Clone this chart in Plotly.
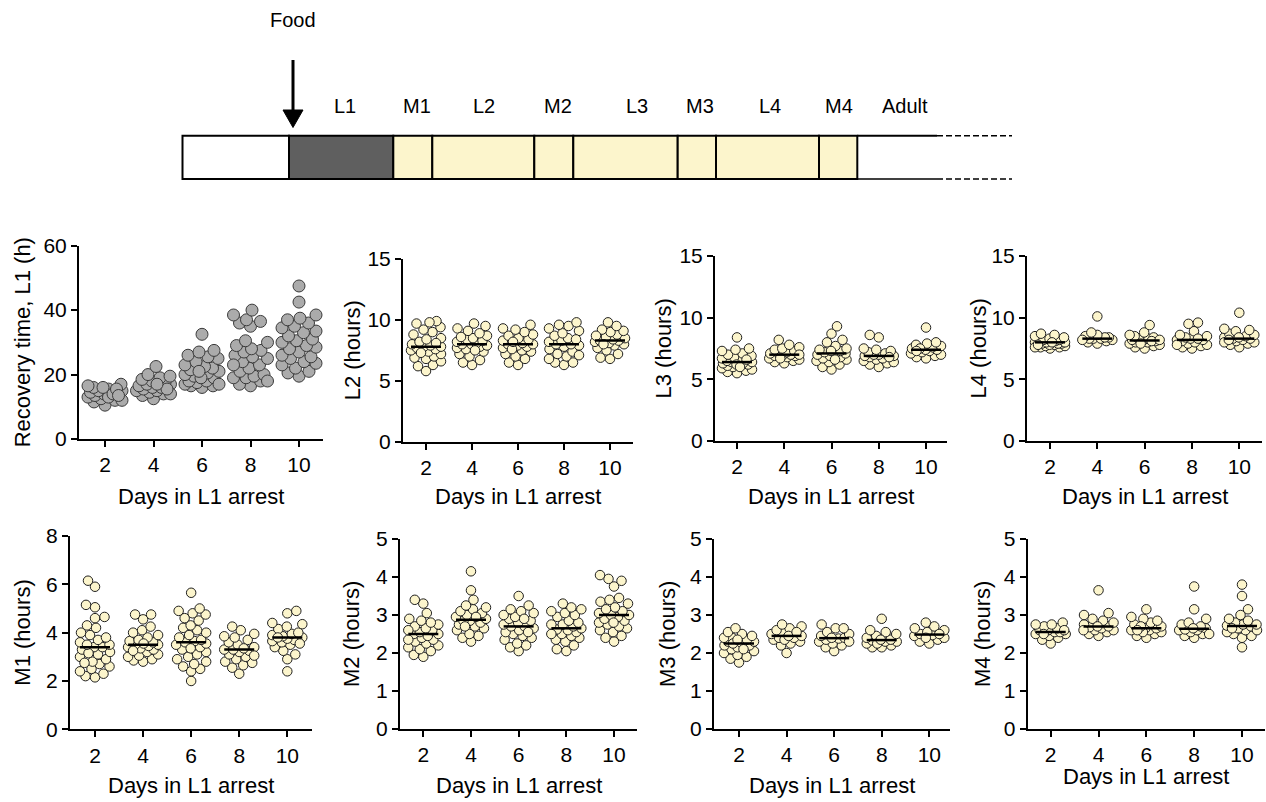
import numpy as np
import plotly.graph_objects as go

W, H = 1266, 802
FONT = "Liberation Sans, Arial, sans-serif"

# ---------------- data ----------------
days = [2, 4, 6, 8, 10]
day_labels = ["2", "4", "6", "8", "10"]

L1_values = [
    [10.5, 11.5, 12, 12.5, 13, 13.5, 14, 14.5, 15, 15, 15.5, 16, 16.5, 17, 12, 13, 14, 15.5, 16, 13.5],
    [12.5, 13.5, 14, 14.5, 15, 15, 15.5, 16, 16, 16.5, 17, 17, 17.5, 18, 18.5, 19, 19.5, 20, 22.5, 14, 15.5, 17],
    [16, 16.5, 16.5, 17, 17.5, 18, 18, 19, 19.5, 20, 20.5, 21, 21.5, 22, 22.5, 23, 24, 25, 25.5, 26, 27, 27.5, 32.5, 17, 19, 21],
    [16.5, 17, 18, 19, 19, 19.5, 20, 21, 22, 23, 24, 25, 25.5, 26, 27, 27.5, 28, 29, 30, 30.5, 35, 36, 36.5, 37, 38.5, 40, 18, 23],
    [19.5, 20.5, 21, 22, 23, 23.5, 24, 25, 25.5, 26, 27, 28, 28.5, 29, 30, 30.5, 31, 32, 33, 33.5, 34.5, 35, 36, 37, 37.5, 38.5, 42.5, 47.5],
]
L2_values = [
    [5.8, 6.2, 6.3, 6.6, 6.8, 6.9, 7.0, 7.2, 7.4, 7.5, 7.6, 7.7, 7.8, 7.8, 7.9, 8.0, 8.2, 8.4, 8.5, 8.8, 9.0, 9.2, 9.4, 9.7, 9.9, 9.8, 7.3, 8.1],
    [6.3, 6.5, 6.7, 7.0, 7.2, 7.4, 7.6, 7.7, 7.8, 7.9, 8.0, 8.0, 8.1, 8.2, 8.3, 8.4, 8.5, 8.7, 8.9, 9.1, 9.3, 9.5, 9.7, 7.5, 8.6],
    [6.3, 6.5, 6.8, 7.0, 7.2, 7.4, 7.5, 7.7, 7.8, 7.9, 8.0, 8.0, 8.1, 8.3, 8.4, 8.5, 8.7, 8.8, 9.0, 9.2, 9.3, 9.6, 7.6, 8.2],
    [6.3, 6.5, 6.5, 6.8, 7.0, 7.2, 7.4, 7.6, 7.8, 7.9, 8.0, 8.0, 8.2, 8.3, 8.5, 8.7, 8.9, 9.1, 9.3, 9.5, 9.6, 9.8, 7.1, 8.4],
    [6.8, 6.9, 7.2, 7.5, 7.7, 7.9, 8.0, 8.1, 8.2, 8.3, 8.3, 8.4, 8.5, 8.6, 8.8, 9.0, 9.1, 9.2, 9.5, 9.8, 8.0, 8.7],
]
L3_values = [
    [5.5, 5.6, 5.7, 5.8, 5.9, 6.0, 6.1, 6.2, 6.3, 6.3, 6.4, 6.4, 6.5, 6.6, 6.7, 6.8, 6.9, 7.0, 7.1, 7.3, 7.4, 7.5, 8.4, 6.2, 6.6, 6.0],
    [6.3, 6.4, 6.5, 6.6, 6.7, 6.8, 6.9, 6.9, 7.0, 7.0, 7.1, 7.1, 7.2, 7.3, 7.4, 7.5, 7.6, 7.8, 8.2, 6.7, 7.0],
    [5.8, 6.0, 6.2, 6.4, 6.5, 6.6, 6.7, 6.8, 6.9, 7.0, 7.1, 7.1, 7.2, 7.3, 7.4, 7.5, 7.7, 8.0, 8.2, 8.7, 9.3, 6.6, 7.3],
    [6.0, 6.2, 6.3, 6.4, 6.5, 6.6, 6.7, 6.8, 6.9, 6.9, 7.0, 7.0, 7.1, 7.2, 7.3, 7.4, 7.5, 8.4, 8.6, 6.8],
    [6.7, 6.8, 6.9, 7.0, 7.1, 7.2, 7.3, 7.4, 7.4, 7.5, 7.6, 7.7, 7.8, 7.9, 8.0, 9.2, 7.5, 7.3],
]
L4_values = [
    [7.5, 7.6, 7.6, 7.7, 7.7, 7.8, 7.8, 7.9, 7.9, 7.9, 8.0, 8.0, 8.0, 8.1, 8.1, 8.2, 8.2, 8.3, 8.4, 8.5, 8.6, 8.7, 7.6, 8.0, 7.8],
    [7.9, 8.0, 8.1, 8.2, 8.3, 8.3, 8.3, 8.4, 8.4, 8.5, 8.6, 8.8, 10.1, 8.2],
    [7.5, 7.6, 7.7, 7.8, 7.9, 8.0, 8.0, 8.1, 8.2, 8.2, 8.3, 8.3, 8.4, 8.5, 8.6, 8.8, 9.4, 7.9, 8.1, 8.2],
    [7.5, 7.6, 7.7, 7.8, 7.9, 8.0, 8.1, 8.2, 8.2, 8.3, 8.4, 8.5, 8.6, 8.9, 9.5, 9.6, 7.8, 8.3],
    [7.6, 7.8, 7.9, 8.0, 8.1, 8.2, 8.3, 8.3, 8.4, 8.5, 8.6, 8.7, 8.9, 9.0, 9.1, 10.4, 8.0, 8.4, 8.2],
]
M1_values = [
    [2.15, 2.2, 2.3, 2.4, 2.5, 2.6, 2.7, 2.8, 2.9, 3.0, 3.1, 3.2, 3.3, 3.4, 3.4, 3.5, 3.6, 3.7, 3.8, 3.9, 4.0, 4.2, 4.3, 4.6, 4.65, 5.05, 5.15, 5.9, 6.15, 2.75, 3.15, 3.5],
    [2.8, 2.85, 2.9, 3.0, 3.05, 3.1, 3.2, 3.3, 3.35, 3.4, 3.45, 3.5, 3.5, 3.6, 3.65, 3.7, 3.8, 3.9, 4.0, 4.1, 4.25, 4.55, 4.75, 4.75, 3.25, 3.55],
    [2.0, 2.4, 2.5, 2.6, 2.7, 2.9, 3.0, 3.1, 3.2, 3.3, 3.4, 3.5, 3.55, 3.6, 3.65, 3.7, 3.8, 3.9, 4.0, 4.1, 4.2, 4.3, 4.5, 4.6, 4.75, 4.8, 4.9, 5.0, 5.65, 2.8, 3.35],
    [2.3, 2.55, 2.65, 2.75, 2.8, 2.9, 3.0, 3.1, 3.2, 3.25, 3.3, 3.3, 3.4, 3.5, 3.6, 3.7, 3.8, 3.85, 3.95, 4.1, 4.25, 3.35, 3.05],
    [2.4, 2.9, 3.1, 3.25, 3.4, 3.5, 3.6, 3.65, 3.7, 3.75, 3.8, 3.85, 3.9, 3.95, 4.0, 4.15, 4.25, 4.35, 4.4, 4.8, 4.9, 3.55, 3.8],
]
M2_values = [
    [1.9, 1.95, 2.05, 2.1, 2.15, 2.2, 2.25, 2.3, 2.35, 2.4, 2.45, 2.5, 2.5, 2.55, 2.6, 2.65, 2.7, 2.75, 2.8, 2.85, 2.9, 3.05, 3.3, 3.4, 2.35, 2.6],
    [2.3, 2.4, 2.45, 2.5, 2.6, 2.65, 2.7, 2.75, 2.8, 2.85, 2.85, 2.9, 2.95, 3.0, 3.05, 3.1, 3.15, 3.2, 3.25, 3.4, 3.65, 4.15, 2.7, 2.95],
    [2.05, 2.15, 2.2, 2.25, 2.35, 2.4, 2.45, 2.5, 2.55, 2.6, 2.65, 2.7, 2.7, 2.75, 2.8, 2.85, 2.9, 2.95, 3.0, 3.05, 3.1, 3.15, 3.25, 3.5, 2.55, 2.9],
    [2.05, 2.1, 2.2, 2.3, 2.35, 2.4, 2.45, 2.5, 2.55, 2.6, 2.62, 2.65, 2.7, 2.75, 2.8, 2.85, 2.95, 3.0, 3.05, 3.1, 3.15, 3.2, 3.3, 2.5, 2.75],
    [2.3, 2.4, 2.45, 2.55, 2.6, 2.65, 2.7, 2.75, 2.8, 2.85, 2.9, 2.95, 3.0, 3.0, 3.05, 3.1, 3.2, 3.3, 3.35, 3.4, 3.45, 3.75, 3.9, 3.95, 4.05, 2.8, 3.15],
]
M3_values = [
    [1.75, 1.85, 1.9, 1.95, 2.0, 2.05, 2.1, 2.15, 2.2, 2.2, 2.25, 2.3, 2.3, 2.35, 2.4, 2.4, 2.45, 2.5, 2.55, 2.65, 2.1, 2.25, 2.35],
    [2.0, 2.2, 2.25, 2.3, 2.35, 2.4, 2.4, 2.45, 2.5, 2.55, 2.6, 2.65, 2.7, 2.75, 2.35, 2.45, 2.55],
    [2.05, 2.15, 2.2, 2.25, 2.3, 2.35, 2.38, 2.4, 2.45, 2.5, 2.55, 2.65, 2.65, 2.75, 2.3, 2.4],
    [2.15, 2.15, 2.2, 2.25, 2.3, 2.3, 2.33, 2.35, 2.4, 2.45, 2.5, 2.55, 2.6, 2.9, 2.25, 2.35],
    [2.25, 2.3, 2.35, 2.4, 2.45, 2.47, 2.5, 2.55, 2.6, 2.65, 2.7, 2.8, 2.4, 2.5],
]
M4_values = [
    [2.25, 2.35, 2.4, 2.45, 2.5, 2.5, 2.55, 2.55, 2.6, 2.6, 2.65, 2.7, 2.75, 2.75, 2.8, 2.5, 2.6],
    [2.45, 2.5, 2.55, 2.6, 2.6, 2.65, 2.68, 2.7, 2.75, 2.8, 2.85, 2.9, 3.0, 3.05, 3.65, 2.6, 2.7],
    [2.4, 2.45, 2.5, 2.55, 2.6, 2.6, 2.65, 2.65, 2.7, 2.75, 2.8, 2.85, 2.9, 2.95, 3.15, 2.55, 2.7, 2.6],
    [2.4, 2.45, 2.5, 2.55, 2.6, 2.6, 2.62, 2.65, 2.7, 2.75, 2.8, 2.9, 3.15, 3.75, 2.5, 2.65],
    [2.15, 2.4, 2.45, 2.5, 2.55, 2.6, 2.65, 2.7, 2.72, 2.75, 2.8, 2.85, 2.9, 3.0, 3.15, 3.5, 3.8, 2.6, 2.75, 2.65],
]

y_titles = ["Recovery time, L1 (h)", "L2 (hours)", "L3 (hours)", "L4 (hours)",
            "M1 (hours)", "M2 (hours)", "M3 (hours)", "M4 (hours)"]
y_maxes = [60, 15, 15, 15, 8, 5, 5, 5]
y_tickvals = [[0, 20, 40, 60], [0, 5, 10, 15], [0, 5, 10, 15], [0, 5, 10, 15],
              [0, 2, 4, 6, 8], [0, 1, 2, 3, 4, 5], [0, 1, 2, 3, 4, 5], [0, 1, 2, 3, 4, 5]]
x_title = "Days in L1 arrest"
panel_values = [L1_values, L2_values, L3_values, L4_values,
                M1_values, M2_values, M3_values, M4_values]

stage_names = ["L1", "M1", "L2", "M2", "L3", "M3", "L4", "M4", "Adult"]

# ---------------- layout geometry (pixels) ----------------
# x0, x1, ytop, ybottom, px of day 2, px of day 10
geom = [
    (79, 323, 245.7, 439, 105, 299),
    (403, 633, 259, 441.7, 426, 610),
    (715, 947, 256, 441, 737, 926),
    (1027, 1262, 256, 441, 1050, 1239.3),
    (70, 312, 536, 729.3, 95, 287.3),
    (400, 637, 539, 729, 423.3, 614),
    (714, 950, 539, 729, 739, 929.3),
    (1027.7, 1265, 539, 729, 1050.7, 1242),
]
ytitle_x = [22, 352, 663, 978, 23, 351, 667, 982]
xtitle_y = [496, 496, 496, 496, 785, 785, 785, 776]


def px(x):
    return x / W


def py(y):
    return 1 - y / H


def swarm(vals, ypx_per_unit, diam, maxw):
    vals = np.asarray(vals, float)
    order = np.argsort(vals, kind="stable")
    placed = []
    offs = np.zeros(len(vals))
    base = [0.0]
    k = 1
    while k * 0.5 <= maxw:
        base += [k * 0.5, -k * 0.5]
        k += 1
    for n, i in enumerate(order):
        y = vals[i] * ypx_per_unit
        cands = base if n % 2 == 0 else [-c for c in base]
        best, bestc, bestd = None, 0.0, -1
        for c in cands:
            md = min((np.hypot(c - a, y - b) for a, b in placed), default=1e9)
            if md >= diam * 0.92:
                best = c
                break
            if md > bestd:
                bestd, bestc = md, c
        if best is None:
            best = bestc
        placed.append((best, y))
        offs[i] = best
    return offs


fig = go.Figure()
layout = dict(
    template="none",
    width=W, height=H, margin=dict(l=0, r=0, t=0, b=0, pad=0, autoexpand=False),
    paper_bgcolor="white", plot_bgcolor="white", showlegend=False,
    font=dict(family=FONT, size=21, color="black"),
)
annotations = []
shapes = []

CREAM = "#fcf5cc"
for p in range(8):
    x0, x1, yt, yb, p2, p10 = geom[p]
    u = (p10 - p2) / 8.0
    xr = [2 - (p2 - x0) / u, 10 + (x1 - p10) / u]
    ypu = (yb - yt) / y_maxes[p]
    sfx = "" if p == 0 else str(p + 1)
    xa, ya = "x" + sfx, "y" + sfx
    diam = 12 if p == 0 else 10
    maxw = 17 if p == 0 else 15
    for g, d in enumerate(days):
        vals = panel_values[p][g]
        offs = swarm(vals, ypu, diam, maxw)
        xs = d + offs / u
        if p == 0:
            mk = dict(size=12, color="#ababab", line=dict(color="#3a3a3a", width=1))
        else:
            mk = dict(size=9.5, color=CREAM, line=dict(color="#202020", width=1))
        fig.add_trace(go.Scatter(x=xs, y=vals, mode="markers", marker=mk,
                                 xaxis=xa, yaxis=ya, cliponaxis=False, hoverinfo="skip"))
        if p > 0:
            med = float(np.median(vals))
            hw = 15 / u
            fig.add_trace(go.Scatter(x=[d - hw, d + hw], y=[med, med], mode="lines",
                                     line=dict(color="black", width=2.5),
                                     xaxis=xa, yaxis=ya, cliponaxis=False, hoverinfo="skip"))
    axcommon = dict(showline=True, linecolor="black", linewidth=2, ticks="outside",
                    ticklen=6, tickwidth=2, tickcolor="black", showgrid=False,
                    zeroline=False, automargin=False,
                    tickfont=dict(family=FONT, size=21, color="black"))
    layout["xaxis" + sfx] = dict(axcommon, domain=[px(x0), px(x1)], range=xr,
                                 tickvals=days, ticktext=day_labels, anchor=ya)
    layout["yaxis" + sfx] = dict(axcommon, domain=[py(yb), py(yt)], range=[0, y_maxes[p]],
                                 tickvals=y_tickvals[p], anchor=xa)
    annotations.append(dict(text=x_title, xref="paper", yref="paper",
                            x=px((x0 + x1) / 2), y=py(xtitle_y[p]), showarrow=False,
                            xanchor="center", yanchor="middle",
                            font=dict(family=FONT, size=22, color="black")))
    annotations.append(dict(text=y_titles[p], xref="paper", yref="paper",
                            x=px(ytitle_x[p]), y=py((yt + yb) / 2), showarrow=False,
                            textangle=-90, xanchor="center", yanchor="middle",
                            font=dict(family=FONT, size=22, color="black")))

# ---------------- top schematic ----------------
bar_top, bar_bot = 135.7, 179
bounds = [182.5, 289, 393.3, 432.3, 534.3, 573.3, 677.7, 716, 819, 857.3]
fills = ["white", "#5f5f5f", CREAM, CREAM, CREAM, CREAM, CREAM, CREAM, CREAM]
for i in range(len(bounds) - 1):
    shapes.append(dict(type="rect", xref="paper", yref="paper",
                       x0=px(bounds[i]), x1=px(bounds[i + 1]), y0=py(bar_bot), y1=py(bar_top),
                       fillcolor=fills[i], line=dict(color="black", width=2)))
shapes.append(dict(type="line", xref="paper", yref="paper", x0=px(857.3), x1=px(937),
                   y0=py(bar_top), y1=py(bar_top), line=dict(color="black", width=2)))
shapes.append(dict(type="line", xref="paper", yref="paper", x0=px(857.3), x1=px(937),
                   y0=py(bar_bot), y1=py(bar_bot), line=dict(color="black", width=1.5)))
for yy in (bar_top, bar_bot):
    shapes.append(dict(type="line", xref="paper", yref="paper", x0=px(937), x1=px(1012),
                       y0=py(yy), y1=py(yy), line=dict(color="black", width=1.5, dash="6px,3px")))
# arrow
shapes.append(dict(type="line", xref="paper", yref="paper", x0=px(293), x1=px(293),
                   y0=py(60), y1=py(112), line=dict(color="black", width=3)))
shapes.append(dict(type="path", xref="paper", yref="paper",
                   path=f"M {px(283)} {py(110)} L {px(303)} {py(110)} L {px(293)} {py(127.5)} Z",
                   fillcolor="black", line=dict(color="black", width=1)))
annotations.append(dict(text="Food", xref="paper", yref="paper", x=px(293), y=py(20.5),
                        showarrow=False, xanchor="center", yanchor="middle",
                        font=dict(family=FONT, size=20, color="black")))
stage_x = [345, 416.7, 484.3, 557.7, 636.7, 700, 770, 839.3, 905]
for name, sx in zip(stage_names, stage_x):
    annotations.append(dict(text=name, xref="paper", yref="paper", x=px(sx), y=py(106.5),
                            showarrow=False, xanchor="center", yanchor="middle",
                            font=dict(family=FONT, size=20, color="black")))

layout["annotations"] = annotations
layout["shapes"] = shapes
fig.update_layout(**layout)
fig.write_html(
    "out.html",
    config={"displayModeBar": False},
    post_script="document.body.style.margin='0';document.body.style.padding='0';"
                "document.body.style.overflow='hidden';",
)
